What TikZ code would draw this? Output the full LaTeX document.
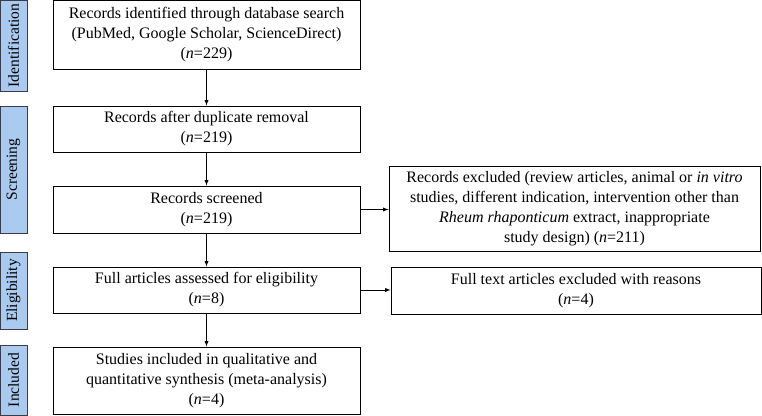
\documentclass[tikz,border=0pt]{standalone}
\usepackage{fontspec}
\setmainfont{Liberation Serif}
\usetikzlibrary{arrows,calc}
\definecolor{sideblue}{RGB}{170,202,240}
\definecolor{sideline}{RGB}{60,60,70}

\begin{document}
\begin{tikzpicture}[x=1pt,y=-1pt,
  box/.style={draw,line width=0.9pt,align=center,inner sep=2pt,font=\fontsize{16}{20}\selectfont},
  phase/.style={draw=sideline,fill=sideblue,line width=0.9pt,minimum width=27pt,inner sep=0pt,
    font=\fontsize{15.5}{18}\selectfont,rotate=90},
  link/.style={-latex,line width=0.9pt}]
\useasboundingbox (0,0) rectangle (762,415);
% side labels
\node[phase,minimum width=91pt,minimum height=27pt] at (13.5,45.5) (id) {Identification};
\node[phase,minimum width=127pt,minimum height=27pt] at (13.5,169.5) (sc) {Screening};
\node[phase,minimum width=77pt,minimum height=27pt] at (13.5,290.5) (el) {Eligibility};
\node[phase,minimum width=70pt,minimum height=27pt] at (13.5,380) (in) {Included};
% main column
\node[box,minimum width=307pt,minimum height=69pt] at (206.5,35) (search)
  {Records identified through database search\\(PubMed, Google Scholar, ScienceDirect)\\(\textit{n}=229)};
\node[box,minimum width=307pt,minimum height=46pt] at (206.5,129) (dup)
  {Records after duplicate removal\\(\textit{n}=219)};
\node[box,minimum width=307pt,minimum height=47pt] at (206.5,209.5) (screen)
  {Records screened\\(\textit{n}=219)};
\node[box,minimum width=307pt,minimum height=46pt] at (206.5,290) (full)
  {Full articles assessed for eligibility\\(\textit{n}=8)};
\node[box,minimum width=307pt,minimum height=67pt] at (206.5,380.5) (incl)
  {Studies included in qualitative and\\quantitative synthesis (meta-analysis)\\(\textit{n}=4)};
% exclusions
\node[box,minimum width=371pt,minimum height=85pt] at (574.5,208.5) (excl)
  {Records excluded (review articles, animal or \textit{in vitro}\\studies, different indication, intervention other than\\\textit{Rheum rhaponticum} extract, inappropriate\\study design) (\textit{n}=211)};
\node[box,minimum width=370pt,minimum height=47pt] at (576,290.5) (fullex)
  {Full text articles excluded with reasons\\(\textit{n}=4)};
% arrows
\draw[link] (search) -- (dup);
\draw[link] (dup) -- (screen);
\draw[link] (screen) -- (full);
\draw[link] (full) -- (incl);
\draw[link] (screen.east) -- (screen.east -| excl.west);
\draw[link] (full.east) -- (full.east -| fullex.west);
\end{tikzpicture}
\end{document}
